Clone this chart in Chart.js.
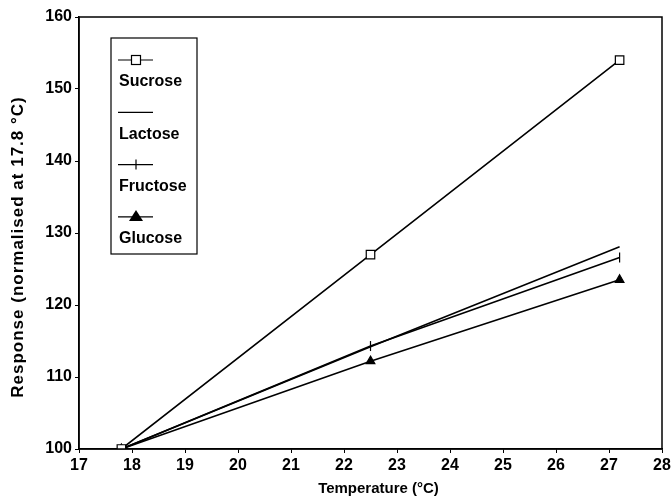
<!DOCTYPE html>
<html>
<head>
<meta charset="utf-8">
<script src="https://cdn.jsdelivr.net/npm/chart.js@4"></script>
<style>
  html, body { margin: 0; padding: 0; background: #fff; }
  #wrap { width: 671px; height: 497px; }
</style>
</head>
<body>
<div id="wrap"><canvas id="canvas" width="671" height="497"></canvas></div>
<script>
const temps = [17.8, 22.5, 27.2];
const sucrose = [100, 127, 154];
const lactose = [100, 114.2, 128.1];
const fructose = [100, 114.3, 126.6];
const glucose = [100, 112.2, 123.5];
const xTicks = [17, 18, 19, 20, 21, 22, 23, 24, 25, 26, 27, 28];
const yTicks = [100, 110, 120, 130, 140, 150, 160];
const xTitle = 'Temperature (°C)';
const yTitle = 'Response (normalised at 17.8 °C)';

const pts = vals => vals.map((v, i) => ({ x: temps[i], y: v }));
const family = 'Liberation Sans, Arial, sans-serif';
const font = { family, weight: 'bold' };

// plot box, axis titles and the boxed legend
const frame = {
    id: 'frame',
    afterDraw(chart) {
        const c = chart.ctx, a = chart.chartArea;
        c.save();
        c.strokeStyle = '#000';
        c.fillStyle = '#000';
        c.lineWidth = 1.5;
        c.strokeRect(a.left, a.top, a.right - a.left, a.bottom - a.top);

        // axis titles
        c.font = 'bold 15px ' + family;
        c.textAlign = 'center';
        c.textBaseline = 'middle';
        c.fillText(xTitle, (a.left + a.right) / 2 + 8, 489);
        c.save();
        c.translate(18, 247);
        c.rotate(-Math.PI / 2);
        c.font = 'bold 17px ' + family;
        c.letterSpacing = '1px';
        c.fillText(yTitle, 0, 0);
        c.restore();

        // legend
        const bx = 111, by = 38, bw = 86, bh = 216;
        c.fillStyle = '#fff';
        c.fillRect(bx, by, bw, bh);
        c.lineWidth = 1.2;
        c.strokeRect(bx, by, bw, bh);
        c.font = 'bold 16px ' + family;
        c.textAlign = 'left';
        chart.data.datasets.forEach((ds, i) => {
            const ly = by + 22 + i * 52.3;
            c.beginPath();
            c.lineWidth = 1.2;
            c.moveTo(118, ly);
            c.lineTo(153, ly);
            c.stroke();
            if (ds.pointStyle === 'rect') {
                c.fillStyle = '#fff';
                c.fillRect(131.5, ly - 4.5, 9, 9);
                c.strokeRect(131.5, ly - 4.5, 9, 9);
            } else if (ds.pointStyle === 'line') {
                c.beginPath();
                c.moveTo(136, ly - 5);
                c.lineTo(136, ly + 5);
                c.stroke();
            } else if (ds.pointStyle === 'triangle') {
                c.fillStyle = '#000';
                c.beginPath();
                c.moveTo(136, ly - 7);
                c.lineTo(143, ly + 4);
                c.lineTo(129, ly + 4);
                c.closePath();
                c.fill();
            }
            c.fillStyle = '#000';
            c.fillText(ds.label, 119, ly + 22);
        });
        c.restore();
    }
};

const ctx = document.getElementById('canvas').getContext('2d');

new Chart(ctx, {
    type: 'line',
    data: {
        datasets: [
            { label: 'Sucrose', data: pts(sucrose), pointStyle: 'rect', pointRadius: 6, pointBackgroundColor: '#fff' },
            { label: 'Lactose', data: pts(lactose), pointRadius: 0 },
            { label: 'Fructose', data: pts(fructose), pointStyle: 'line', pointRotation: 90, pointRadius: 5 },
            { label: 'Glucose', data: pts(glucose), pointStyle: 'triangle', pointRadius: 5, pointBackgroundColor: '#000' }
        ].map(d => Object.assign({
            borderColor: '#000',
            borderWidth: 1.6,
            pointBorderColor: '#000',
            pointBorderWidth: 1.2,
            tension: 0
        }, d))
    },
    options: {
        responsive: false,
        animation: false,
        devicePixelRatio: 1,
        layout: { padding: { top: 17, right: 0, left: 0, bottom: 0 } },
        plugins: { legend: { display: false }, tooltip: { enabled: false } },
        scales: {
            x: {
                type: 'linear',
                min: 17,
                max: 28,
                afterBuildTicks: s => { s.ticks = xTicks.map(v => ({ value: v })); },
                afterFit: s => { s.height = 48; s.paddingLeft = 0; s.paddingRight = 9; },
                grid: { drawOnChartArea: false, color: '#000', tickLength: 4 },
                border: { color: '#000', width: 1.5 },
                ticks: { color: '#000', font: { ...font, size: 16 }, padding: 3, maxRotation: 0 }
            },
            y: {
                min: 100,
                max: 160,
                afterBuildTicks: s => { s.ticks = yTicks.map(v => ({ value: v })); },
                afterFit: s => { s.width = 79; },
                grid: { drawOnChartArea: false, color: '#000', tickLength: 4 },
                border: { color: '#000', width: 1.5 },
                ticks: { color: '#000', font: { ...font, size: 16 }, padding: 3 }
            }
        }
    },
    plugins: [frame]
});
</script>
</body>
</html>
